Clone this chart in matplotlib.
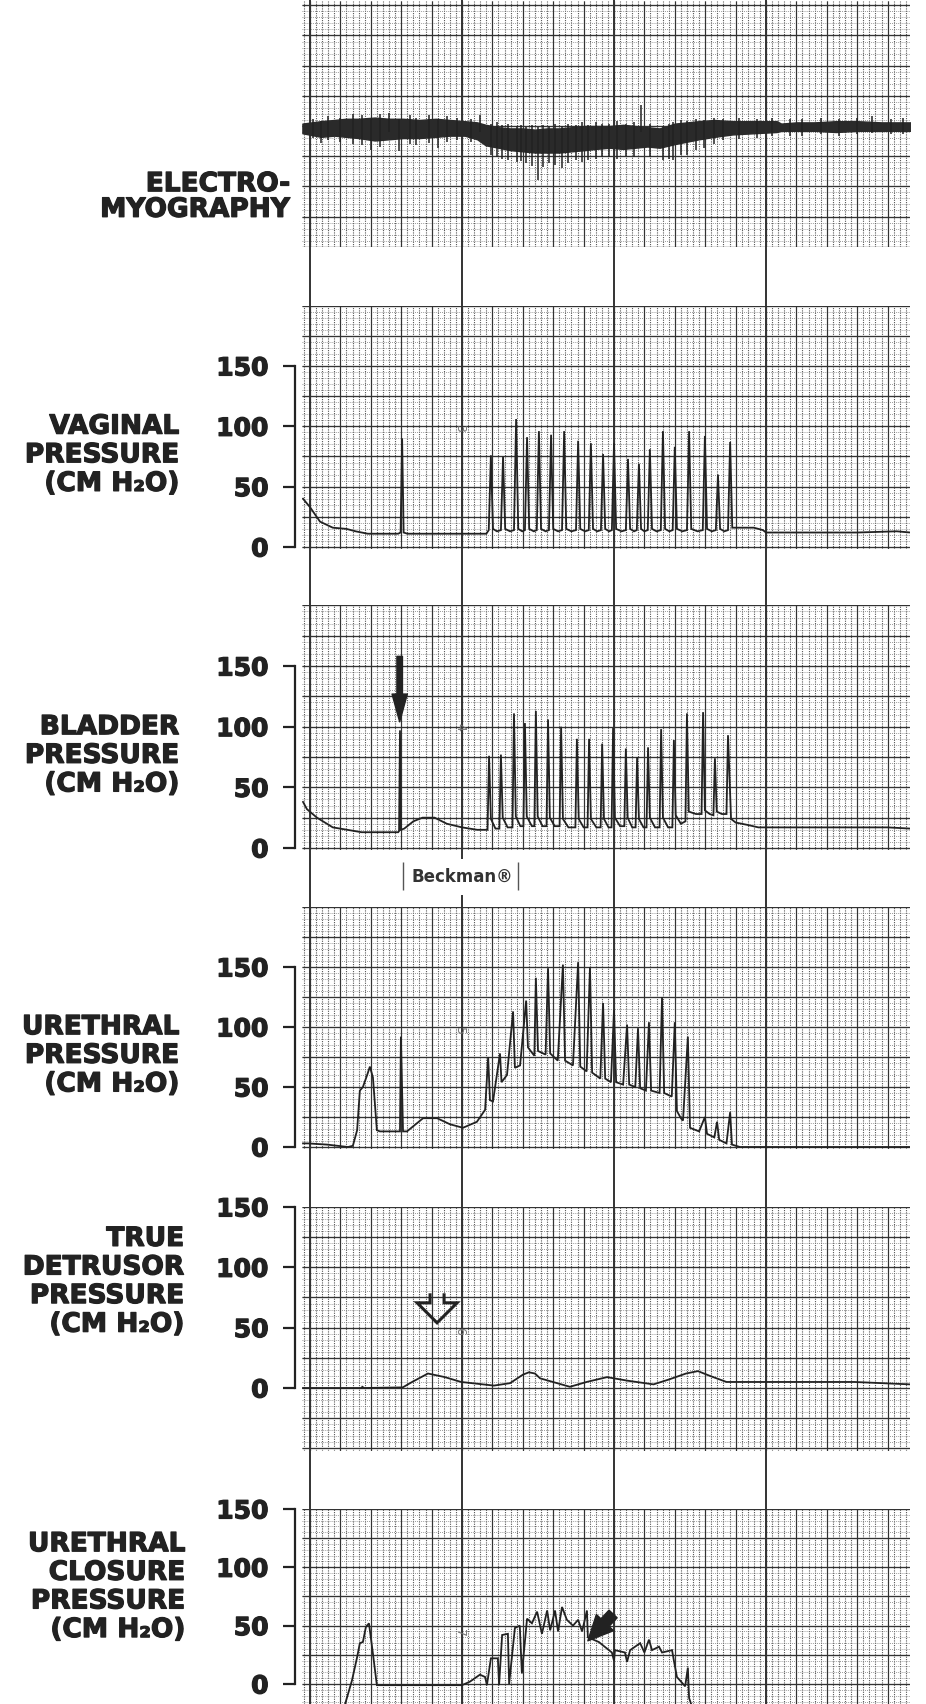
import numpy as np
import matplotlib
matplotlib.use("Agg")
import matplotlib.pyplot as plt
import matplotlib.transforms as mtransforms
import matplotlib.patheffects as pe

# time axis in heavy-grid divisions (x=0 on the first bold line)
# pressure in cm H2O

# electromyography: band envelope + single spikes (arbitrary units)
emg_x = [-0.25, 0.36, 0.8, 1.18, 1.6, 2.13, 2.6, 3.06, 3.6, 4.14, 4.6, 5.09, 5.5, 5.78, 6.2, 6.58,
         7.0, 7.4, 7.8, 8.2, 8.6, 9.04, 9.4, 9.85, 10.3, 10.7, 11.1, 11.5, 12.0, 12.4, 12.8,
         13.3, 13.9, 14.6, 15.35, 15.5, 16.0, 16.6, 17.3, 18.0, 18.8, 19.75]
emg_hi = [2, 4, 5, 6, 6, 7, 6, 6, 5, 6, 5, 4, 3, 1, -1, -2, -2, -3, -2, -2, -1, 0, 0, 0, 1, 0,
          -1, -2, 2, 3, 4, 5, 4, 4, 4, 2, 3, 3, 4, 4, 3, 3]
emg_lo = [-6, -9, -8, -9, -10, -12, -11, -10, -10, -9, -8, -8, -11, -16, -18, -20, -21,
          -22, -22, -22, -21, -20, -19, -18, -19, -18, -17, -18, -15, -13, -11, -9, -7, -6,
          -5, -4, -4, -4, -5, -4, -4, -4]
emg_spk_x = [0.1, 0.36, 0.6, 1.0, 1.4, 1.7, 2.0, 2.3, 2.6, 2.94, 3.3, 3.5, 3.9, 4.2, 4.5, 4.85,
             5.3, 5.6, 5.95, 6.15, 6.3, 6.5, 6.8, 6.95, 7.1, 7.3, 7.49, 7.65, 7.87, 8.05, 8.28,
             8.5, 8.75, 8.95, 9.16, 9.4, 9.6, 9.85, 10.1, 10.4, 10.65, 10.9, 11.2, 11.6, 11.8,
             11.95, 12.2, 12.4, 12.7, 12.95, 13.3, 13.6, 14.1, 14.7, 15.2, 15.8, 16.2, 16.8,
             17.4, 18.0, 18.5, 19.1, 19.5]
emg_spk_lo = [-10, -14, -12, -13, -15, -16, -20, -17, -5, -21, -15, -16, -14, -18, -13, -12,
              -13, -5, -24, -26, -27, -28, -30, -29, -31, -33, -45, -34, -31, -32, -35, -31,
              -28, -30, -28, -27, -26, -26, -27, -25, -26, -5, -26, -28, -27, -28, -24, -24,
              -20, -18, -15, -12, -11, -10, -8, -8, -8, -7, -8, -7, -6, -7, -7]
emg_spk_hi = [6, 4, 8, 7, 10, 9, 6, 10, 11, 6, 9, 7, 9, 6, 8, 7, 6, 9, 2, 3, 1, 2, 0, 1, -1,
              1, -1, 1, 0, 2, 0, 2, 1, 3, 1, 3, 2, 2, 4, 2, 3, 17, 2, 0, 2, 3, 5, 4, 6, 5, 7,
              6, 7, 6, 7, 6, 6, 7, 6, 7, 8, 6, 7]

vag_x = [-0.23, 0.0, 0.33, 0.75, 1.2, 1.5, 1.9, 2.9, 2.98, 3.03, 3.08, 3.2, 4.5, 5.8,
         5.88, 5.95, 6.02, 6.15, 6.28, 6.35, 6.42, 6.58, 6.71, 6.78, 6.85, 6.98, 7.07, 7.14, 7.21,
         7.36, 7.46, 7.53, 7.60, 7.75, 7.86, 7.93, 8.0, 8.16, 8.29, 8.36, 8.43, 8.6, 8.75, 8.82,
         8.89, 9.05, 9.17, 9.24, 9.31, 9.45, 9.57, 9.64, 9.71, 9.84, 9.93, 10.0, 10.07, 10.25,
         10.39, 10.46, 10.53, 10.66, 10.75, 10.82, 10.89, 11.0, 11.11, 11.18, 11.25, 11.4, 11.54,
         11.61, 11.68, 11.82, 11.93, 12.0, 12.07, 12.25, 12.4, 12.47, 12.54, 12.75, 12.92, 12.99,
         13.06, 13.22, 13.35, 13.42, 13.49, 13.63, 13.75, 13.82, 13.89, 14.2, 14.6, 14.9, 15.0,
         16.5, 18.0, 19.3, 19.75]
vag_y = [40, 33, 21, 16, 15, 13, 11, 11, 12, 90, 12, 11, 11, 11,
         14, 76, 15, 13, 14, 75, 15, 13, 14, 106, 15, 13, 14, 91, 15,
         13, 14, 96, 15, 13, 14, 93, 15, 13, 14, 96, 15, 13, 14, 88,
         15, 13, 14, 86, 15, 13, 14, 77, 15, 13, 14, 86, 15, 13,
         14, 73, 15, 13, 14, 69, 15, 13, 14, 81, 15, 13, 14,
         96, 15, 13, 14, 83, 15, 13, 14, 96, 15, 13, 14, 92,
         15, 13, 14, 60, 15, 13, 14, 87, 16, 16, 16, 14, 12,
         12, 12, 13, 12]

blad_x = [-0.23, -0.1, 0.23, 0.75, 1.7, 2.9, 2.93, 2.96, 2.99, 3.1, 3.4, 3.7, 4.1, 4.5, 5.0,
          5.5, 5.84, 5.89, 5.95, 6.1, 6.23, 6.28, 6.34, 6.5, 6.66, 6.71, 6.77, 6.92, 7.02,
          7.07, 7.13, 7.3, 7.38, 7.43, 7.49, 7.65, 7.78, 7.83, 7.89, 8.05, 8.21, 8.26, 8.32,
          8.5, 8.73, 8.78, 8.84, 9.0, 9.13, 9.18, 9.24, 9.42, 9.56, 9.61, 9.67, 9.82, 9.92,
          9.97, 10.03, 10.2, 10.34, 10.39, 10.45, 10.6, 10.71, 10.76, 10.82, 10.97, 11.07,
          11.12, 11.18, 11.35, 11.5, 11.55, 11.61, 11.78, 11.92, 11.97, 12.03, 12.2, 12.35,
          12.4, 12.46, 12.7, 12.88, 12.93, 12.99, 13.15, 13.27, 13.32, 13.38, 13.55, 13.7,
          13.75, 13.85, 14.0, 14.4, 14.75, 16.0, 18.0, 19.0, 19.75]
blad_y = [38, 32, 25, 17, 13, 13, 14, 97, 15, 16, 22, 25, 25, 20, 17,
          15, 15, 76, 24, 16, 16, 77, 25, 17, 17, 111, 26, 18, 18,
          103, 26, 18, 18, 113, 26, 18, 18, 106, 25, 18, 18, 100, 24,
          17, 17, 90, 24, 17, 17, 90, 24, 17, 17, 86, 24, 17, 17,
          99, 25, 18, 18, 82, 25, 17, 17, 75, 24, 17, 17,
          83, 25, 17, 17, 98, 25, 17, 17, 89, 27, 20, 22,
          111, 30, 28, 28, 112, 31, 28, 27, 74, 30, 28, 28,
          93, 24, 21, 19, 17, 17, 17, 17, 16]

ure_x = [-0.23, -0.07, 0.56, 1.25, 1.41, 1.55, 1.64, 1.74, 1.88, 1.97, 2.07, 2.2, 2.3, 2.96,
         2.99, 3.06, 3.19, 3.72, 4.18, 4.6, 5.03, 5.49, 5.76, 5.86, 5.92, 6.02, 6.25, 6.3,
         6.48, 6.68, 6.74, 6.91, 7.11, 7.17, 7.38, 7.43, 7.5, 7.75, 7.83, 7.9, 8.15, 8.32,
         8.39, 8.65, 8.82, 8.89, 9.1, 9.21, 9.28, 9.55, 9.64, 9.71, 9.9, 10.0, 10.07, 10.3,
         10.43, 10.5, 10.7, 10.79, 10.86, 11.05, 11.15, 11.22, 11.5, 11.58, 11.65, 11.9,
         12.0, 12.07, 12.2, 12.27, 12.43, 12.5, 12.8, 12.99, 13.06, 13.3, 13.39, 13.46, 13.7,
         13.82, 13.88, 14.14, 15.0, 19.75]
ure_y = [3, 3, 2, 0, 1, 14, 47, 50, 60, 67, 58, 14, 13, 13,
         92, 13, 13, 24, 24, 19, 16, 21, 31, 75, 39, 38, 78, 54,
         60, 113, 66, 68, 122, 83, 76, 141, 80, 77, 149, 78, 72, 152,
         72, 68, 154, 67, 63, 150, 62, 57, 120, 57, 54, 114, 54, 52,
         102, 52, 50, 99, 49, 47, 104, 47, 45, 125, 45, 42,
         104, 30, 24, 22, 92, 16, 13, 25, 11, 8, 21, 6, 3,
         29, 2, 0, 0, 0]

det_x = [-0.23, 1.7, 1.72, 1.78, 3.05, 3.36, 3.88, 4.44, 4.97, 6.05, 6.58, 7.0, 7.2, 7.4,
         7.57, 8.55, 9.1, 9.77, 10.46, 11.3, 11.8, 12.37, 12.76, 13.16, 13.7, 15.2, 17.9, 19.75]
det_y = [0, 0, 1, 0, 0.5, 5, 12, 9, 5, 2, 4, 11, 13, 12,
         8, 1, 5, 9, 6, 3, 7, 12, 14, 10, 5, 5, 5, 3]

clo_x = [1.1, 1.38, 1.55, 1.64, 1.74, 1.84, 1.94, 2.07, 2.2, 5.0, 5.26, 5.59, 5.76, 5.82,
         5.95, 6.18, 6.22, 6.32, 6.51, 6.55, 6.74, 6.9, 6.97, 7.14, 7.3, 7.47, 7.63, 7.8,
         7.9, 8.06, 8.16, 8.29, 8.45, 8.65, 8.82, 8.95, 9.11, 9.14, 9.5, 9.93, 10.0, 10.03,
         10.36, 10.43, 10.53, 10.86, 11.0, 11.15, 11.25, 11.48, 11.58, 11.91, 11.97, 12.07,
         12.24, 12.34, 12.43, 12.47, 12.6]
clo_y = [-22, 3, 23, 35, 36, 49, 52, 26, -1, -1, 2, 8, 6, -1,
         22, 22, -1, 42, 43, 0, 48, 50, 9, 56, 52, 62, 43, 63,
         46, 63, 45, 66, 55, 50, 55, 45, 63, 40, 36, 27, 20, 29,
         27, 19, 29, 35, 27, 38, 29, 32, 27, 29, 20, 6,
         1, -2, 14, -12, -22]

W, H = 926, 1704
INK = '#222222'
GRID = '#333333'
X0, X1 = -0.25, 19.75
PX0, PXU = 310, 30.4          # pixel of x=0, pixels per division
HEAVY = [pe.withStroke(linewidth=0.9, foreground=INK)]

fig = plt.figure(figsize=(W / 100, H / 100), dpi=100)
fig.patch.set_facecolor('white')

left = (PX0 + X0 * PXU) / W
width = (X1 - X0) * PXU / W

# background strip: bold lines running through the gaps
bg = fig.add_axes([left, 0, width, 1], zorder=0)
bg.set_xlim(X0, X1)
bg.set_ylim(H, 0)
bg.axis('off')
for xv in [0, 5, 10, 15]:
    bg.axvline(xv, color=GRID, lw=1.4)
bg.text((462 - PX0) / PXU, 877, 'Beckman\u00ae', ha='center', va='center', fontsize=12,
        fontweight='bold', color='#333',
        bbox=dict(boxstyle='square,pad=0.55', fc='white', ec='none'), zorder=3)
bg.vlines([(403 - PX0) / PXU, (518 - PX0) / PXU], 862, 890, color='#555', lw=1.0, zorder=4)


def panel(zero_px, ppu, ymin, ymax, ticks=True):
    top = zero_px - ymax * ppu
    bot = zero_px - ymin * ppu
    ax = fig.add_axes([left, 1 - bot / H, width, (bot - top) / H], zorder=2)
    ax.set_xlim(X0, X1)
    ax.set_ylim(ymin, ymax)
    ax.set_facecolor('white')
    # chart paper
    ax.vlines(np.arange(-0.2, X1, 0.2), ymin, ymax, colors='#555555', lw=0.8,
              linestyles=(0, (1.0, 1.1)))
    ax.hlines(np.arange(np.ceil(ymin / 5) * 5, ymax + 0.1, 5), X0, X1, colors='#7a7a7a',
              lw=0.6, linestyles=(0, (1.0, 1.5)))
    ax.vlines(np.arange(0, X1, 1), ymin, ymax, colors=GRID, lw=0.85)
    ax.hlines(np.arange(np.ceil(ymin / 25) * 25, ymax + 0.1, 25), X0, X1, colors=GRID, lw=0.95)
    ax.vlines([0, 5, 10, 15], ymin, ymax, colors=GRID, lw=1.4)
    ax.set_xticks([])
    for s in ['top', 'right', 'bottom']:
        ax.spines[s].set_visible(False)
    if ticks:
        ax.spines['left'].set_position(('outward', 5.3))
        ax.spines['left'].set_bounds(0, 150)
        ax.spines['left'].set_linewidth(1.6)
        ax.spines['left'].set_color(INK)
        ax.set_yticks([0, 50, 100, 150])
        ax.tick_params(axis='y', length=9, width=1.6, color=INK, pad=10, labelsize=18,
                       labelcolor=INK)
        for t in ax.get_yticklabels():
            t.set_fontweight('bold')
            t.set_path_effects(HEAVY)
    else:
        ax.spines['left'].set_visible(False)
        ax.set_yticks([])
    return ax


def label(ax, text, right_px, yval=75):
    tr = mtransforms.blended_transform_factory(fig.transFigure, ax.transData)
    ax.text(right_px / W, yval, text, transform=tr, ha='right', va='center',
            multialignment='right', fontsize=19, fontweight='bold', color=INK,
            linespacing=1.13, clip_on=False, path_effects=HEAVY)


def marker_digit(ax, s, yval):
    ax.text(4.93, yval, s, rotation=-90, ha='center', va='center', fontsize=9,
            color='#777', zorder=4)


line_kw = dict(color=INK, lw=1.3, zorder=5, solid_joinstyle='miter')

# EMG
ax_e = panel(126, 1.207, -100, 103.8, ticks=False)
ax_e.fill_between(emg_x, emg_lo, emg_hi, color='#2a2a2a', lw=1.0, zorder=5)
ax_e.vlines(emg_spk_x, emg_spk_lo, emg_spk_hi, color=INK, lw=1.1, zorder=5)
fig.text(290 / W, 1 - 197 / H, 'ELECTRO-\nMYOGRAPHY', ha='right', va='center',
         multialignment='right', fontsize=19, fontweight='bold', color=INK,
         linespacing=0.98, path_effects=HEAVY)

# vaginal
ax_v = panel(547, 1.207, -2, 200)
ax_v.plot(vag_x, vag_y, **line_kw)
label(ax_v, 'VAGINAL\nPRESSURE\n(CM H\u2082O)', 179, 76)
marker_digit(ax_v, '3', 99)

# bladder
ax_b = panel(848, 1.213, -2, 200)
ax_b.plot(blad_x, blad_y, **line_kw)
label(ax_b, 'BLADDER\nPRESSURE\n(CM H\u2082O)', 179, 76)
marker_digit(ax_b, '4', 100)
ax_b.annotate('', xy=(2.95, 104), xytext=(2.95, 158),
              arrowprops=dict(arrowstyle='simple,head_length=1.0,head_width=0.55,tail_width=0.2',
                              mutation_scale=20, fc=INK, ec=INK, shrinkA=0, shrinkB=0),
              zorder=6)

# urethral
ax_u = panel(1147, 1.2, -2, 200)
ax_u.plot(ure_x, ure_y, **line_kw)
label(ax_u, 'URETHRAL\nPRESSURE\n(CM H\u2082O)', 179, 76)
marker_digit(ax_u, '5', 97)

# true detrusor
ax_d = panel(1388, 1.207, -52, 150)
ax_d.plot(det_x, det_y, **line_kw)
label(ax_d, 'TRUE\nDETRUSOR\nPRESSURE\n(CM H\u2082O)', 184, 88)
marker_digit(ax_d, '6', 47)
# open arrow outline, drawn in inches around its tip
tip = mtransforms.ScaledTranslation(4.18, 54, ax_d.transData)
ax_d.plot([-0.07, -0.07, -0.2, 0.0, 0.2, 0.07, 0.07],
          [0.28, 0.2, 0.2, 0.0, 0.2, 0.2, 0.28],
          transform=fig.dpi_scale_trans + tip, color=INK, lw=2.2,
          solid_joinstyle='miter', zorder=6)

# urethral closure
ax_c = panel(1684, 1.167, -17, 150)
ax_c.plot(clo_x, clo_y, **line_kw)
label(ax_c, 'URETHRAL\nCLOSURE\nPRESSURE\n(CM H\u2082O)', 185, 83)
marker_digit(ax_c, '7', 44)
ax_c.annotate('', xy=(9.14, 37), xytext=(9.97, 60),
              arrowprops=dict(arrowstyle='simple,head_length=0.9,head_width=0.85,tail_width=0.4',
                              mutation_scale=20, fc=INK, ec=INK, shrinkA=0, shrinkB=0),
              zorder=6)

fig.savefig('out.png', dpi=100, facecolor='white')
